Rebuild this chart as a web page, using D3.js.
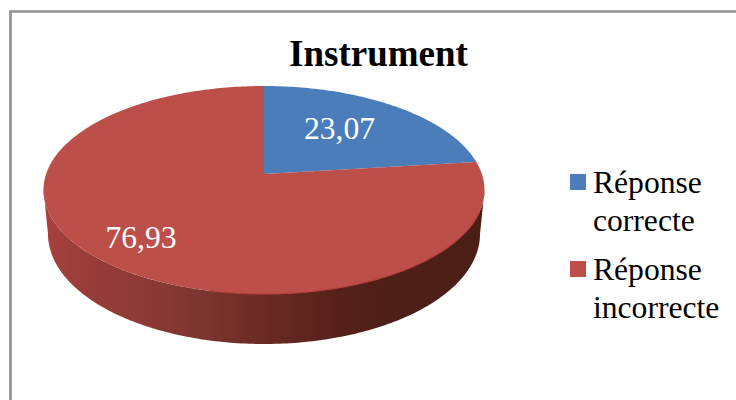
<!DOCTYPE html>
<html><head><meta charset="utf-8">
<script src="https://cdn.jsdelivr.net/npm/d3@7"></script>
<style>html,body{margin:0;padding:0;background:#fff;overflow:hidden}svg{display:block}
text{font-family:"Liberation Serif","Times New Roman",serif}</style></head>
<body><svg id="c" width="736" height="400"></svg>
<script>
const categories = ["Réponse correcte", "Réponse incorrecte"];
const values = [23.07, 76.93];
const valueLabels = ["23,07", "76,93"];
const legendLines = [["Réponse", "correcte"], ["Réponse", "incorrecte"]];
const colors = ["#4b7dba", "#bc4f4a"];
const title = "Instrument";

const svg = d3.select("#c");
const W = 736, H = 400;
svg.append("path").attr("d", `M10.5 ${H}V11.5H${W}`).attr("fill", "none")
  .attr("stroke", "#8f8f8f").attr("stroke-width", 2.6);

const topE = {cx: 264, cy: 190, rx: 220.5, ry: 104};
const botE = {cx: 264, cy: 234, rx: 216, ry: 110};
const apexY = 174;
const c = (topE.cy - apexY) / topE.ry;

// Perspective projection of a circle angle (clockwise from 12 o'clock) on the tilted top face
function project(a, r = 1) {
  const u = Math.sin(a) * r, v = -Math.cos(a) * r, d = 1 - c * v;
  return [topE.cx + topE.rx * u * Math.sqrt(1 - c * c) / d, topE.cy + topE.ry * (v - c) / d];
}

const defs = svg.append("defs");
const grad = defs.append("linearGradient").attr("id", "wall")
  .attr("gradientUnits", "userSpaceOnUse").attr("x1", 43).attr("x2", 484).attr("y1", 0).attr("y2", 0);
[[0, "#a8413d"], [0.1, "#983c38"], [0.22, "#8d3a35"], [0.36, "#7d352f"], [0.5, "#6b2a24"],
 [0.62, "#5c231d"], [0.75, "#4f1f18"], [1, "#4a1e15"]].forEach(([o, col]) =>
  grad.append("stop").attr("offset", o).attr("stop-color", col));

// side wall
const line = d3.line();
const ts = d3.range(0, 181).map(d => d * Math.PI / 180);
const ell = (e, t) => [e.cx + e.rx * Math.cos(t), e.cy + e.ry * Math.sin(t)];
const wallPts = ts.map(t => ell(topE, t)).concat(ts.slice().reverse().map(t => ell(botE, t)));
svg.append("path").attr("d", line(wallPts) + "Z").attr("fill", "url(#wall)");

// top face slices
const pie = d3.pie().sort(null).value(d => d);
const arcs = pie(values);
const sliceG = svg.append("g");
arcs.forEach((s, i) => {
  const n = Math.ceil((s.endAngle - s.startAngle) * 60);
  const pts = [project(0, 0)].concat(d3.range(n + 1).map(k =>
    project(s.startAngle + (s.endAngle - s.startAngle) * k / n)));
  sliceG.append("path").attr("d", line(pts) + "Z").attr("fill", colors[i]);
});

// bright rim on the front edge of the top face
svg.append("path").attr("d", line(ts.slice(12, 105).map(t => ell(topE, t))))
  .attr("fill", "none").attr("stroke", "#b53c37").attr("stroke-width", 1.2);

// data labels
const labelPos = [[339.5, 139], [141, 248]];
svg.selectAll(".dl").data(valueLabels).join("text").attr("class", "dl")
  .attr("x", (d, i) => labelPos[i][0]).attr("y", (d, i) => labelPos[i][1])
  .attr("text-anchor", "middle").attr("font-size", 31.6).attr("fill", "#fff").text(d => d);

// title
svg.append("text").attr("x", 378.5).attr("y", 66).attr("text-anchor", "middle")
  .attr("font-size", 37).attr("font-weight", "bold").attr("fill", "#000").text(title);

// legend
const legendY = [174, 261];
const lg = svg.selectAll(".lg").data(categories).join("g").attr("class", "lg")
  .attr("transform", (d, i) => `translate(570,${legendY[i]})`);
lg.append("rect").attr("width", 16).attr("height", 16).attr("fill", (d, i) => colors[i]);
lg.each(function (d, i) {
  d3.select(this).selectAll("text").data(legendLines[i]).join("text")
    .attr("x", 23).attr("y", (t, j) => 19 + j * 38)
    .attr("font-size", 31.6).attr("fill", "#000").text(t => t);
});
</script></body></html>
